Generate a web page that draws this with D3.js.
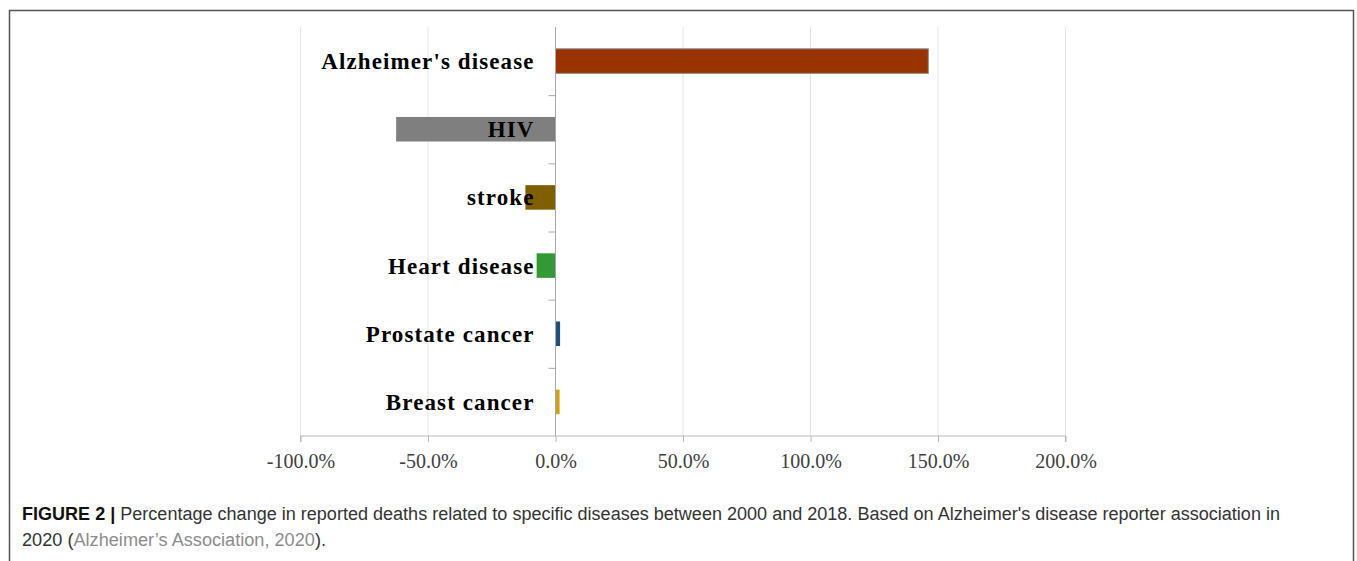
<!DOCTYPE html>
<html>
<head>
<meta charset="utf-8">
<script src="https://cdn.jsdelivr.net/npm/d3@7"></script>
<style>
  html, body { margin: 0; padding: 0; background: #fff; }
  svg { display: block; }
</style>
</head>
<body>
<script>
// categories, top to bottom, and their % change 2000-2018
const diseases = ["Alzheimer's disease", "HIV", "stroke", "Heart disease", "Prostate cancer", "Breast cancer"];
const changes = [146.2, -62.5, -11.8, -7.4, 1.8, 1.6];
const barColors = ["#993300", "#7f7f7f", "#7f5f00", "#339933", "#1f4e79", "#d4a017"];
const tickValues = [-100, -50, 0, 50, 100, 150, 200];

function drawChart() {
	const W = 1357, H = 561;

	let svg = d3.select("body")
		.append("svg")
		.attr("width", W)
		.attr("height", H);

	// outer frame
	svg.append("rect")
		.attr("x", 9.5).attr("y", 10.5)
		.attr("width", 1344).attr("height", 570)
		.attr("fill", "none")
		.attr("stroke", "#555")
		.attr("stroke-width", 1.5);

	// scales
	let x = d3.scaleLinear().domain([-100, 200]).range([300.5, 1065.5]);
	let y = d3.scaleBand().domain(diseases).range([27, 436]).paddingInner(0.64).paddingOuter(0.32);
	let band = d3.scaleBand().domain(diseases).range([27, 436]);

	// grid lines
	svg.append("g")
		.selectAll("line")
		.data(tickValues.filter(d => d !== 0))
		.join("line")
		.attr("x1", d => x(d)).attr("x2", d => x(d))
		.attr("y1", 27).attr("y2", 436)
		.attr("stroke", "#e3e3e3")
		.attr("stroke-width", 1);

	// bottom axis
	let xAxis = svg.append("g")
		.attr("transform", "translate(0,436)")
		.call(d3.axisBottom(x).tickValues(tickValues).tickSize(6).tickPadding(12)
			.tickFormat(d => d.toFixed(1) + "%"));
	xAxis.select(".domain").attr("stroke", "#b7b7b7").attr("d", "M" + x(-100) + ",6V0H" + x(200) + "V6");
	xAxis.selectAll(".tick line").attr("stroke", "#b7b7b7");
	xAxis.selectAll(".tick text")
		.attr("fill", "#404040")
		.style("font-family", "'Liberation Serif', 'Times New Roman', serif")
		.style("font-size", "20px");

	// bars
	svg.append("g")
		.selectAll("rect")
		.data(diseases)
		.join("rect")
		.attr("x", (d, i) => Math.min(x(0), x(changes[i])))
		.attr("y", d => y(d))
		.attr("width", (d, i) => Math.abs(x(changes[i]) - x(0)))
		.attr("height", y.bandwidth())
		.attr("fill", (d, i) => barColors[i])
		.attr("stroke", (d, i) => i === 0 ? "#8c8c8c" : "none")
		.attr("stroke-width", 1);

	// category axis at zero
	let yAxis = svg.append("g")
		.attr("transform", "translate(" + x(0) + ",0)")
		.call(d3.axisLeft(band).tickSize(0).tickFormat(""));
	yAxis.select(".domain").attr("stroke", "#a6a6a6").attr("d", "M0,27V436");
	yAxis.append("g")
		.selectAll("line")
		.data(diseases.slice(1))
		.join("line")
		.attr("x1", -7).attr("x2", 0)
		.attr("y1", d => band(d) + 0.5).attr("y2", d => band(d) + 0.5)
		.attr("stroke", "#a6a6a6");

	// category labels (drawn on top of bars)
	svg.append("g")
		.selectAll("text")
		.data(diseases)
		.join("text")
		.attr("x", x(0) - 21)
		.attr("y", d => band(d) + band.bandwidth() / 2)
		.attr("dy", "0.35em")
		.attr("text-anchor", "end")
		.attr("fill", "#000")
		.style("font-family", "'Liberation Serif', 'Times New Roman', serif")
		.style("font-weight", "bold")
		.style("font-size", "23px")
		.style("letter-spacing", "1.1px")
		.text(d => d);

	// caption
	let cap = svg.append("g")
		.style("font-family", "'Liberation Sans', Arial, sans-serif")
		.style("font-size", "18px");
	let l1 = cap.append("text").attr("x", 22).attr("y", 520).attr("fill", "#333");
	l1.append("tspan").attr("font-weight", "bold").attr("fill", "#111").text("FIGURE 2 | ");
	l1.append("tspan").text("Percentage change in reported deaths related to specific diseases between 2000 and 2018. Based on Alzheimer's disease reporter association in");
	let l2 = cap.append("text").attr("x", 22).attr("y", 546).attr("fill", "#333");
	l2.append("tspan").text("2020 (");
	l2.append("tspan").attr("fill", "#8c8c8c").text("Alzheimer\u2019s Association, 2020");
	l2.append("tspan").text(").");

	// fit caption lines to the reference width
	l1.attr("textLength", 1258).attr("lengthAdjust", "spacingAndGlyphs");
	l2.attr("textLength", 304).attr("lengthAdjust", "spacingAndGlyphs");
}

window.addEventListener("load", drawChart);
</script>
</body>
</html>
